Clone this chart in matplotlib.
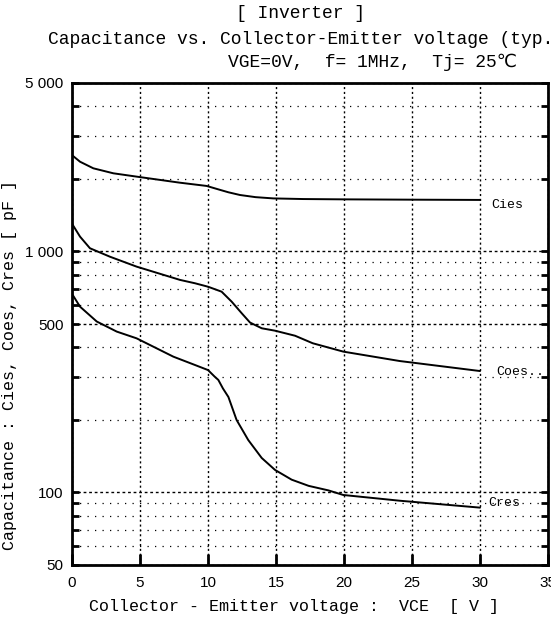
import numpy as np
import matplotlib
matplotlib.use("Agg")
import matplotlib.pyplot as plt

# Capacitance curves, VCE in volts, capacitance in pF
cies_v = [0, 0.59, 1.57, 3.04, 4.75, 7.9, 9.9, 10.9, 11.5, 12.35, 13.5, 14.8, 17, 20, 25, 30]
cies_c = [2510, 2357, 2213, 2110, 2044, 1930, 1870, 1800, 1760, 1715, 1680, 1660, 1650, 1645, 1640, 1636]

coes_v = [0.05, 0.59, 1.32, 2.79, 4.75, 7.94, 9.04, 10.0, 11.0, 11.74, 12.48, 13.09,
          13.95, 14.93, 16.4, 17.7, 19.95, 24.1, 30]
coes_c = [1290, 1152, 1031, 951, 865, 762, 738, 714, 681, 619, 554, 507,
          480, 469, 447, 416, 384, 351, 319]

cres_v = [0.05, 0.59, 1.82, 3.29, 4.75, 7.45, 9.04, 10.0, 10.5, 10.76, 11.1, 11.5, 12.1,
          12.96, 13.95, 14.93, 16.15, 17.4, 18.85, 19.95, 24.1, 30]
cres_c = [660, 590, 512, 465, 436, 366, 338, 322, 302, 293, 270, 249, 200,
          165, 139, 124, 113, 106.5, 102, 97.6, 92.4, 86.5]

x_ticks = [0, 5, 10, 15, 20, 25, 30, 35]
y_ticks = [50, 100, 500, 1000, 5000]
y_tick_labels = ["50", "100", "500", "1 000", "5 000"]
y_minor = [60, 70, 80, 90, 200, 300, 400, 600, 700, 800, 900, 2000, 3000, 4000]

mono = ["Liberation Mono", "DejaVu Sans Mono", "DejaVu Sans"]
narrow = ["Liberation Sans Narrow", "Liberation Sans", "DejaVu Sans"]

W, H = 551, 619
fig = plt.figure(figsize=(W / 100, H / 100), dpi=100)
ax = fig.add_axes([72 / W, 1 - 565 / H, 476 / W, 482 / H])

ax.set_yscale("log")
ax.set_xlim(0, 35)
ax.set_ylim(50, 5000)

for v, c in [(cies_v, cies_c), (coes_v, coes_c), (cres_v, cres_c)]:
    ax.plot(v, c, color="black", lw=1.4, solid_joinstyle="round",
            solid_capstyle="round")

ax.set_xticks(x_ticks)
ax.set_xticklabels([str(t) for t in x_ticks], family=narrow, fontsize=11)
ax.set_yticks(y_ticks)
ax.set_yticklabels(y_tick_labels, family=narrow, fontsize=11)
ax.set_yticks(y_minor, minor=True)
ax.yaxis.set_minor_formatter(matplotlib.ticker.NullFormatter())

# grid: dense dots on decades/half decades and voltage steps, sparse dots elsewhere
ax.xaxis.grid(True, which="major", color="black", lw=1.0, ls=(0, (1.5, 2)))
ax.yaxis.grid(True, which="major", color="black", lw=1.0, ls=(0, (2, 2)))
ax.yaxis.grid(True, which="minor", color="black", lw=0.9, ls=(0, (1, 5)))

ax.tick_params(axis="x", which="major", direction="in", length=8, width=2, pad=8)
ax.tick_params(axis="y", which="both", direction="in", left=True, right=True,
               length=5, width=2, pad=6)
for s in ax.spines.values():
    s.set_linewidth(2)

ax.text(30.8, 1560, "Cies", family=mono, fontsize=9.5, va="center")
ax.text(31.2, 317, "Coes..", family=mono, fontsize=9.5, va="center")
ax.text(30.6, 90, "Cres", family=mono, fontsize=9.5, va="center")

fig.text(300 / W, 1 - 14 / H, "[ Inverter ]", family=mono, fontsize=13,
         ha="center", va="center")
fig.text(48 / W, 1 - 40 / H, "Capacitance vs. Collector-Emitter voltage (typ.)",
         family=mono, fontsize=13, ha="left", va="center")
fig.text(228 / W, 1 - 62 / H, "VGE=0V,  f= 1MHz,  Tj= 25℃", family=mono,
         fontsize=13, ha="left", va="center")
fig.text(294 / W, 1 - 607 / H, "Collector - Emitter voltage :  VCE  [ V ]",
         family=mono, fontsize=12, ha="center", va="center")
fig.text(10 / W, 1 - 365 / H, "Capacitance : Cies, Coes, Cres [ pF ]",
         family=mono, fontsize=12, ha="center", va="center", rotation=90)

fig.savefig("out.png", dpi=100)
